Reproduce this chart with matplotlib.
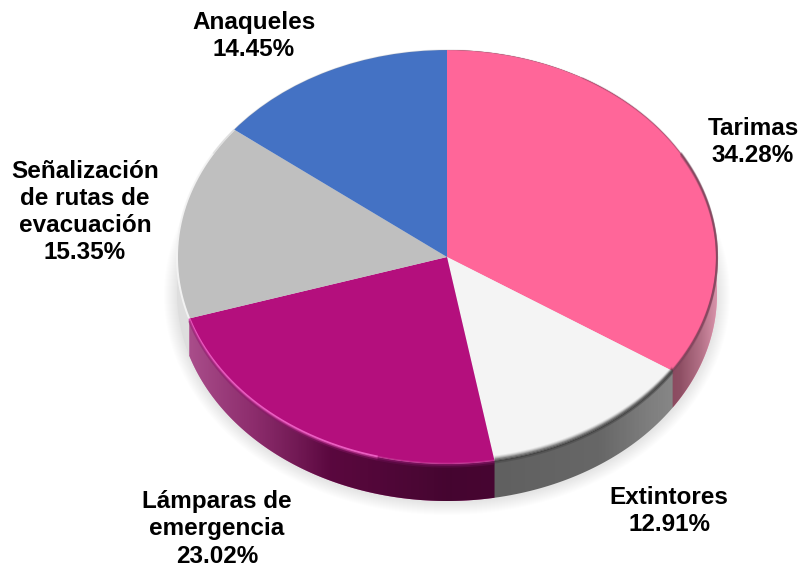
import numpy as np
import matplotlib
matplotlib.use("Agg")
import matplotlib.pyplot as plt
from matplotlib.path import Path
from matplotlib.patches import PathPatch

labels = ["Tarimas", "Extintores", "Lámparas de\nemergencia",
          "Señalización\nde rutas de\nevacuación", "Anaqueles"]
shares = [34.28, 12.91, 23.02, 15.35, 14.45]
colors = ["#FF6699", "#F4F4F4", "#B40F7D", "#BFBFBF", "#4472C4"]
label_px = [(753, 142), (669, 511), (217, 529), (85, 212), (254, 36)]

W, H = 801, 566
CX, CY, RX, RY = 447, 257, 270, 207
DEPTH = 37 / RY

plt.rcParams["font.family"] = ["Liberation Sans", "DejaVu Sans"]
fig = plt.figure(figsize=(W / 100, H / 100), dpi=100)
ax = fig.add_axes([0, 0, 1, 1])
xlim = ((0 - CX) / RX, (W - CX) / RX)
ylim = ((CY - H) / RY, (CY - 0) / RY)


def arc(t1, t2, yoff=0.0, rad=1.0, n=200):
    t = np.radians(np.linspace(t1, t2, n))
    return rad * np.sin(t), rad * np.cos(t) - yoff


# Soft shadow under the disc
tt = np.radians(np.linspace(0, 360, 400))
for grow in np.linspace(13, 1, 13):
    ax.fill((RX + grow) / RX * np.sin(tt), (RY + grow) / RY * np.cos(tt) - DEPTH - 1 / RY,
            color="black", alpha=0.009, lw=0, zorder=1)

edges = np.concatenate([[0], np.cumsum(shares)]) / sum(shares) * 360

# Side wall: base colours per wedge
wall_verts = []
for i, c in enumerate(colors):
    t1, t2 = edges[i], edges[i + 1]
    x1, y1 = arc(t1, t2)
    x2, y2 = arc(t2, t1, yoff=DEPTH)
    vx, vy = np.r_[x1, x2], np.r_[y1, y2]
    if c != "#BFBFBF" and c != "#4472C4":
        ax.fill(vx, vy, color=c, lw=0, zorder=2)
        wall_verts.append(np.column_stack([vx, vy]))

# Horizontal lighting over the wall
xs_px = np.array([177, 250, 330, 450, 600, 650, 680, 700, 718])
grey = np.array([170, 90, 0, 0, 0, 30, 64, 120, 190]) / 255
alpha = np.array([0.45, 0.42, 0.50, 0.62, 0.58, 0.55, 0.59, 0.57, 0.55])
grid_px = np.arange(170, 725)
ov = np.zeros((1, grid_px.size, 4))
g = np.interp(grid_px, xs_px, grey)
ov[0, :, 0] = ov[0, :, 1] = ov[0, :, 2] = g
ov[0, :, 3] = np.interp(grid_px, xs_px, alpha)
im = ax.imshow(ov, extent=[(170 - CX) / RX, (725 - CX) / RX, -1.3, 1.3],
               aspect="auto", interpolation="bilinear", zorder=3)
codes, verts = [], []
for v in wall_verts:
    verts.extend(v.tolist() + [v[0].tolist()])
    codes.extend([Path.MOVETO] + [Path.LINETO] * (len(v) - 1) + [Path.CLOSEPOLY])
clip = PathPatch(Path(verts, codes), transform=ax.transData, fc="none", ec="none")
ax.add_patch(clip)
im.set_clip_path(clip)

# Light rim of the grey wedge
t1, t2 = edges[3], edges[4]
x1, y1 = arc(t1, t2)
x2, y2 = arc(t2, t1, yoff=DEPTH)
ax.fill(np.r_[x1, x2], np.r_[y1, y2], color="#DEDEDE", lw=0, zorder=3.2)

# Top surface
wedges, _ = ax.pie(shares, colors=colors, startangle=90, counterclock=False,
                   radius=1, center=(0, 0), wedgeprops={"linewidth": 0, "zorder": 5},
                   frame=False)
for w in wedges:
    w.set_zorder(5)


# Bevel lines
def bevel(t1, t2, rows):
    for off_px, col, a, lw in rows:
        x, y = arc(t1, t2, yoff=off_px / RY)
        ax.plot(x, y, color=col, alpha=a, lw=lw, zorder=6, solid_capstyle="butt")


bevel(edges[0] + 60, edges[1], [(-1.0, "#5A2A40", 0.25, 1.5), (0.2, "#6E3A50", 0.70, 1.5),
                                (1.8, "#8A4A62", 0.45, 1.5)])
bevel(edges[0] + 30, edges[0] + 60, [(0.0, "#6E3A50", 0.30, 1.2)])
bevel(edges[1], edges[2], [(-4.0, "#303030", 0.08, 1.5), (-3.0, "#303030", 0.15, 1.5),
                           (-2.0, "#303030", 0.28, 1.5), (-1.0, "#303030", 0.45, 1.5),
                           (0.2, "#303030", 0.60, 1.5), (1.8, "#484848", 0.50, 1.5)])
split = edges[2] + 25
bevel(split, edges[3], [(-0.5, "#F56CCF", 0.85, 1.4), (1.0, "#C93A9C", 0.7, 1.3),
                        (2.6, "#8A1468", 0.45, 1.5)])
bevel(edges[2], split, [(-0.5, "#D860B0", 0.35, 1.2), (1.0, "#9A1A78", 0.55, 1.3),
                        (2.6, "#6E1056", 0.4, 1.5)])
bevel(edges[3], edges[4], [(0.0, "#F4F4F4", 0.95, 1.4)])
bevel(300, 360, [(0.0, "#8A8A8A", 0.18, 1.0)])
bevel(0, 30, [(0.0, "#8A8A8A", 0.18, 1.0)])

ax.set_xlim(*xlim)
ax.set_ylim(*ylim)
ax.set_aspect("auto")
ax.axis("off")

values_txt = [f"{v:.2f}%" for v in shares]
for lab, val, (px, py) in zip(labels, values_txt, label_px):
    fig.text(px / W, 1 - py / H, f"{lab}\n{val}", ha="center", va="center",
             fontsize=17.5, fontweight="bold", color="black", linespacing=1.23)

fig.savefig("out.png", dpi=100)
